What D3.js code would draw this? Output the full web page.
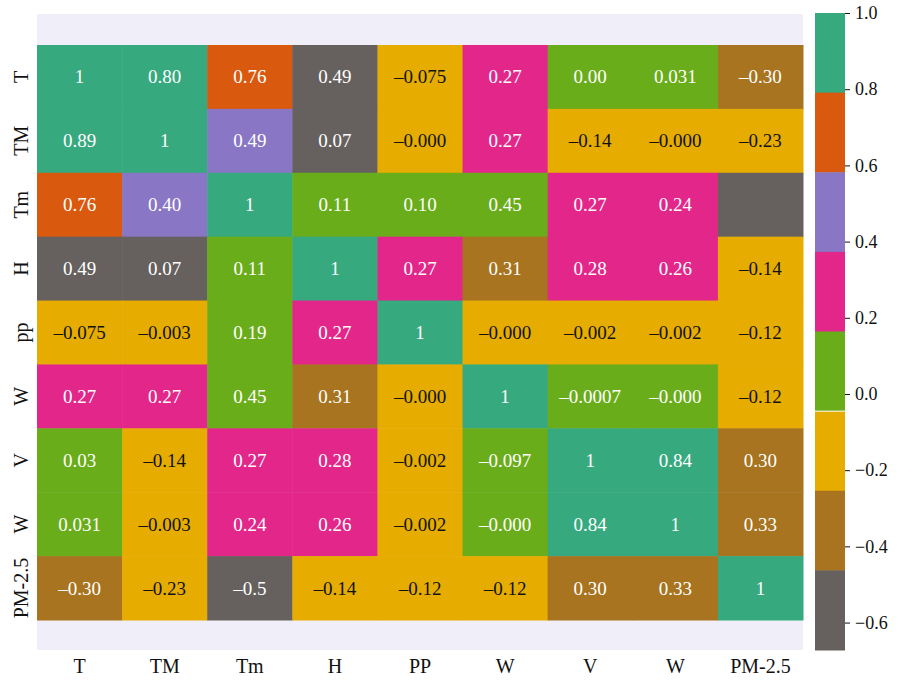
<!DOCTYPE html>
<html>
<head>
<meta charset="utf-8">
<script src="https://cdn.jsdelivr.net/npm/d3@7/dist/d3.min.js"></script>
<style>
  html, body { margin: 0; padding: 0; background: #ffffff; }
  svg { display: block; }
</style>
</head>
<body>
<script>
// ---------- data ----------
const rowLabels = ["T", "TM", "Tm", "H", "pp", "W", "V", "W", "PM-2.5"];
const colLabels = ["T", "TM", "Tm", "H", "PP", "W", "V", "W", "PM-2.5"];

// cell annotations as printed in the figure
const cellText = [
  ["1", "0.80", "0.76", "0.49", "-0.075", "0.27", "0.00", "0.031", "-0.30"],
  ["0.89", "1", "0.49", "0.07", "-0.000", "0.27", "-0.14", "-0.000", "-0.23"],
  ["0.76", "0.40", "1", "0.11", "0.10", "0.45", "0.27", "0.24", ""],
  ["0.49", "0.07", "0.11", "1", "0.27", "0.31", "0.28", "0.26", "-0.14"],
  ["-0.075", "-0.003", "0.19", "0.27", "1", "-0.000", "-0.002", "-0.002", "-0.12"],
  ["0.27", "0.27", "0.45", "0.31", "-0.000", "1", "-0.0007", "-0.000", "-0.12"],
  ["0.03", "-0.14", "0.27", "0.28", "-0.002", "-0.097", "1", "0.84", "0.30"],
  ["0.031", "-0.003", "0.24", "0.26", "-0.002", "-0.000", "0.84", "1", "0.33"],
  ["-0.30", "-0.23", "-0.5", "-0.14", "-0.12", "-0.12", "0.30", "0.33", "1"]
];

// colour class of each cell (0 = top band of the colour bar ... 7 = bottom band)
const cellLevel = [
  [0, 0, 1, 7, 5, 3, 4, 4, 6],
  [0, 0, 2, 7, 5, 3, 5, 5, 5],
  [1, 2, 0, 4, 4, 4, 3, 3, 7],
  [7, 7, 4, 0, 3, 6, 3, 3, 5],
  [5, 5, 4, 3, 0, 5, 5, 5, 5],
  [3, 3, 4, 6, 5, 0, 4, 4, 5],
  [4, 5, 3, 3, 5, 4, 0, 0, 6],
  [4, 5, 3, 3, 5, 4, 0, 0, 6],
  [6, 5, 7, 5, 5, 5, 6, 6, 0]
];

const palette = ["#37a97f", "#d9590f", "#8976c4", "#e3278a", "#6aad1a", "#e6ad00", "#a87420", "#66615f"];
const darkTextLevels = [5];

const cbarDomain = [-0.672, 1.0];
const cbarTicks = [-0.6, -0.4, -0.2, 0.0, 0.2, 0.4, 0.6, 0.8, 1.0];

// ---------- layout ----------
const W = 897, H = 682;
const plot = { left: 37, right: 803, top: 14, bottom: 650 };
const gridTop = 45, gridBottom = 620;
const cbar = { x: 815, w: 30, top: 13, bottom: 650 };
const serif = "'Liberation Serif', 'DejaVu Serif', serif";
const fixMinus = s => s.replace(/-/g, "\u2013");

const svg = d3.select("body").append("svg")
  .attr("width", W).attr("height", H)
  .style("font-family", serif);

// axes background
svg.append("rect")
  .attr("x", plot.left).attr("y", plot.top)
  .attr("width", plot.right - plot.left).attr("height", plot.bottom - plot.top)
  .attr("fill", "#f0eff9");

const x = d3.scaleBand().domain(d3.range(colLabels.length)).range([plot.left, plot.right]);
const y = d3.scaleBand().domain(d3.range(rowLabels.length)).range([gridTop, gridBottom]);
const color = d3.scaleOrdinal().domain(d3.range(palette.length)).range(palette);

const cells = [];
cellText.forEach((row, i) => row.forEach((t, j) => cells.push({ i, j, t, lvl: cellLevel[i][j] })));

const g = svg.append("g");
g.selectAll("rect.cell").data(cells).join("rect")
  .attr("class", "cell")
  .attr("x", d => x(d.j)).attr("y", d => y(d.i))
  .attr("width", x.bandwidth() + 0.5).attr("height", y.bandwidth() + 0.5)
  .attr("fill", d => color(d.lvl));

g.selectAll("text.val").data(cells.filter(d => d.t !== "")).join("text")
  .attr("class", "val")
  .attr("x", d => x(d.j) + x.bandwidth() / 2)
  .attr("y", d => y(d.i) + y.bandwidth() / 2)
  .attr("text-anchor", "middle")
  .attr("dominant-baseline", "central")
  .attr("font-size", 19)
  .attr("fill", d => darkTextLevels.includes(d.lvl) ? "#111111" : "#ffffff")
  .text(d => fixMinus(d.t));

// x axis labels
const xAxis = d3.axisBottom(x).tickSize(0).tickFormat(i => colLabels[i]);
const gx = svg.append("g").attr("transform", `translate(0,${plot.bottom})`).call(xAxis);
gx.select(".domain").remove();
gx.selectAll("text").attr("font-family", serif).attr("font-size", 20).attr("fill", "#111")
  .attr("dy", null).attr("y", 23);

// y axis labels (rotated)
const yAxis = d3.axisLeft(y).tickSize(0).tickFormat(i => rowLabels[i]);
const gy = svg.append("g").attr("transform", `translate(${plot.left},0)`).call(yAxis);
gy.select(".domain").remove();
gy.selectAll("text").attr("font-family", serif).attr("font-size", 20).attr("fill", "#111")
  .attr("x", null).attr("dy", null)
  .attr("text-anchor", "middle")
  .attr("transform", "translate(-9,0) rotate(-90)");

// colour bar
const cy = d3.scaleLinear().domain(cbarDomain).range([cbar.bottom, cbar.top]);
const nBins = palette.length;
const step = (cbarDomain[1] - cbarDomain[0]) / nBins;
const bins = d3.range(nBins).map(k => ({ k, hi: cbarDomain[1] - k * step, lo: cbarDomain[1] - (k + 1) * step }));
svg.append("g").selectAll("rect").data(bins).join("rect")
  .attr("x", cbar.x).attr("width", cbar.w)
  .attr("y", d => cy(d.hi)).attr("height", d => cy(d.lo) - cy(d.hi) + 0.5)
  .attr("fill", d => color(d.k));
// thin white separator between green and yellow bands
svg.append("line")
  .attr("x1", cbar.x).attr("x2", cbar.x + cbar.w)
  .attr("y1", cy(bins[4].lo)).attr("y2", cy(bins[4].lo))
  .attr("stroke", "#ffffff").attr("stroke-width", 1);

const cAxis = d3.axisRight(cy).tickValues(cbarTicks).tickSize(5).tickPadding(5)
  .tickFormat(v => fixMinus(d3.format(".1f")(v)));
const gc = svg.append("g").attr("transform", `translate(${cbar.x + cbar.w},0)`).call(cAxis);
gc.select(".domain").remove();
gc.selectAll("line").attr("stroke", "#111");
gc.selectAll("text").attr("font-family", serif).attr("font-size", 18).attr("fill", "#111");
</script>
</body>
</html>
